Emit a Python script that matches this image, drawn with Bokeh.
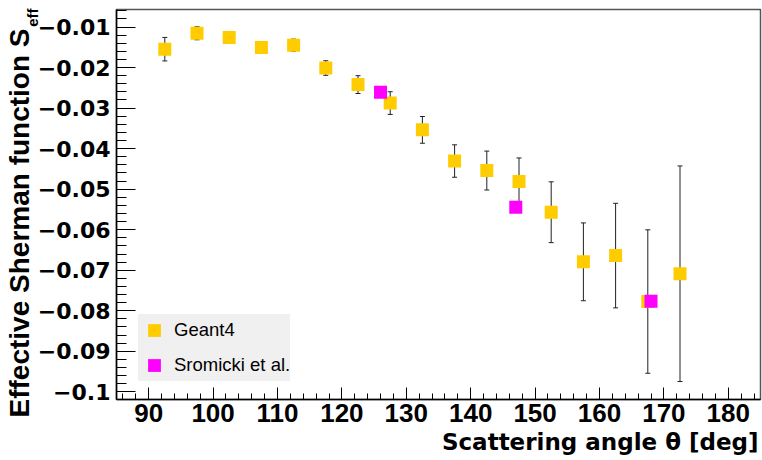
import numpy as np
from bokeh.plotting import figure
from bokeh.models import (ColumnDataSource, Range1d, FixedTicker, CustomJSTickFormatter,
                          Whisker, TeeHead, Legend, LegendItem, Title)
from bokeh.embed import file_html
from bokeh.resources import INLINE

# ---------------- data ----------------
geant4_angle = [92.5, 97.5, 102.5, 107.5, 112.5, 117.5, 122.5, 127.5, 132.5,
                137.5, 142.5, 147.5, 152.5, 157.5, 162.5, 167.5, 172.5]
geant4_seff = [-0.01546, -0.01154, -0.0126, -0.01504, -0.01448, -0.02011, -0.0242,
               -0.02876, -0.03537, -0.04306, -0.04541, -0.0481, -0.05569, -0.06793,
               -0.06639, -0.07773, -0.07087]
geant4_err = [0.0029, 0.0016, 0.0010, 0.0010, 0.0015, 0.0018, 0.0022, 0.0028, 0.0033,
              0.0040, 0.0048, 0.0058, 0.0075, 0.0096, 0.0129, 0.0177, 0.0266]

sromicki_angle = [126.0, 147.0, 168.0]
sromicki_seff = [-0.02606, -0.05447, -0.07765]

x_ticks = [90, 100, 110, 120, 130, 140, 150, 160, 170, 180]
x_tick_labels = ["90", "100", "110", "120", "130", "140", "150", "160", "170", "180"]
y_ticks = [-0.1, -0.09, -0.08, -0.07, -0.06, -0.05, -0.04, -0.03, -0.02, -0.01]
y_tick_labels = ["\u22120.1", "\u22120.09", "\u22120.08", "\u22120.07", "\u22120.06",
                 "\u22120.05", "\u22120.04", "\u22120.03", "\u22120.02", "\u22120.01"]

legend_labels = ["Geant4", "Sromicki et al."]
x_title = "Scattering angle \u03b8 [deg]"
y_title = "Effective Sherman function S"
y_title_sub = "eff"

GEANT_COLOR = "#ffcc00"
SROM_COLOR = "#ff00ff"

# ---------------- figure ----------------
p = figure(width=762, height=460,
           x_range=Range1d(85, 185), y_range=Range1d(-0.1019, -0.00567),
           output_backend="svg", toolbar_location=None,
           min_border_left=116, min_border_right=2, min_border_top=9, min_border_bottom=58)
p.xgrid.visible = False
p.ygrid.visible = False
p.outline_line_color = "#555555"
p.outline_line_width = 1.5
p.background_fill_color = "white"
p.border_fill_color = "white"

fmt_code = """
let best = 0, bd = Infinity;
for (let i = 0; i < tvals.length; i++) {
  const d = Math.abs(tvals[i] - tick);
  if (d < bd) { bd = d; best = i; }
}
return tlabels[best];
"""

xa = p.xaxis[0]
xa.ticker = FixedTicker(ticks=x_ticks, minor_ticks=list(np.arange(86, 186, 2)))
xa.formatter = CustomJSTickFormatter(args=dict(tvals=x_ticks, tlabels=x_tick_labels), code=fmt_code)
xa.major_tick_in = 12
xa.major_tick_out = 0
xa.minor_tick_in = 6
xa.minor_tick_out = 0
xa.axis_line_color = "black"
xa.axis_line_width = 1.5
xa.major_tick_line_color = "black"
xa.minor_tick_line_color = "black"
xa.major_label_text_font = "Liberation Sans"
xa.major_label_text_font_style = "bold"
xa.major_label_text_font_size = "26px"
xa.major_label_text_color = "black"
xa.major_label_standoff = 4

ya = p.yaxis[0]
ya.ticker = FixedTicker(ticks=y_ticks, minor_ticks=list(np.arange(-0.102, -0.005, 0.002)))
ya.formatter = CustomJSTickFormatter(args=dict(tvals=y_ticks, tlabels=y_tick_labels), code=fmt_code)
ya.major_tick_in = 19
ya.major_tick_out = 0
ya.minor_tick_in = 10
ya.minor_tick_out = 0
ya.axis_line_color = "black"
ya.axis_line_width = 1.5
ya.major_tick_line_color = "black"
ya.minor_tick_line_color = "black"
ya.major_label_text_font = "DejaVu Sans"
ya.major_label_text_font_style = "bold"
ya.major_label_text_font_size = "22px"
ya.major_label_text_color = "black"
ya.major_label_standoff = 6

# ---------------- data marks ----------------
src = ColumnDataSource(dict(
    x=geant4_angle, y=geant4_seff,
    lower=[v - e for v, e in zip(geant4_seff, geant4_err)],
    upper=[v + e for v, e in zip(geant4_seff, geant4_err)],
))
whisk = Whisker(source=src, base="x", lower="lower", upper="upper", dimension="height",
                line_color="#222222", line_width=1,
                upper_head=TeeHead(size=5, line_color="#222222", line_width=1),
                lower_head=TeeHead(size=5, line_color="#222222", line_width=1),
                level="underlay")
p.add_layout(whisk)

r1 = p.scatter("x", "y", source=src, marker="square", size=13,
               fill_color=GEANT_COLOR, line_color=None)
r2 = p.scatter(sromicki_angle, sromicki_seff, marker="square", size=13,
               fill_color=SROM_COLOR, line_color=None)

legend = Legend(items=[LegendItem(label=legend_labels[0], renderers=[r1]),
                       LegendItem(label=legend_labels[1], renderers=[r2])],
                location=(22, 18), padding=5, spacing=3, margin=0,
                glyph_width=32, glyph_height=32, label_standoff=4,
                label_text_font="Liberation Sans", label_text_font_size="18.5px",
                label_text_color="black",
                background_fill_color="#f0f0f0", background_fill_alpha=1.0,
                border_line_color=None)
p.add_layout(legend)

# ---------------- axis titles (side panels) ----------------
sub_title = Title(text=y_title_sub, align="right", vertical_align="bottom",
                  offset=-1, standoff=-12,
                  text_font="Liberation Sans", text_font_style="bold",
                  text_font_size="15px", text_color="black")
main_ytitle = Title(text=y_title, align="right", vertical_align="bottom",
                    offset=19, standoff=-15,
                    text_font="Liberation Sans", text_font_style="bold",
                    text_font_size="28px", text_color="black")
p.add_layout(sub_title, "left")
p.add_layout(main_ytitle, "left")

xtitle = Title(text=x_title, align="right", vertical_align="top",
               offset=2, standoff=8,
               text_font="DejaVu Sans", text_font_style="bold",
               text_font_size="23px", text_color="black")
p.add_layout(xtitle, "below")

open("out.html", "w").write(file_html(p, INLINE))
